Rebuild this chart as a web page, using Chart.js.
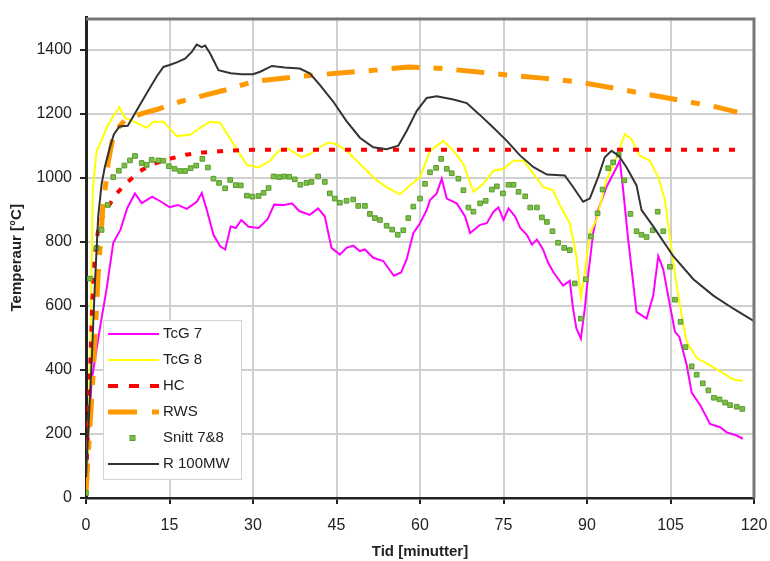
<!DOCTYPE html>
<html>
<head>
<meta charset="utf-8">
<script src="https://cdn.jsdelivr.net/npm/chart.js@4.4.0/dist/chart.umd.min.js"></script>
<style>
  html, body { margin: 0; padding: 0; background: #fff; }
  #wrap { width: 770px; height: 561px; }
</style>
</head>
<body>
<div id="wrap"><canvas id="chart" width="770" height="561"></canvas></div>
<script>
// time in minutes, temperature in °C
const tcg7Time = [0,0.2,1,2.5,3.7,4.9,6.2,7.4,8.8,10,11.9,13.5,15,16.5,18.1,19.9,20.8,21.7,22.9,24.1,25,26,26.9,27.9,29.2,31,32.6,33.8,35.6,37,38.3,40.2,41.7,42.9,44.1,45.6,46.8,48,49.2,50.1,51.6,53.4,55.3,56.6,57.6,58.8,60,61.2,61.8,63,63.9,64.8,66.6,68.1,69,70.8,72,73.2,74.1,75,75.9,77.1,78,79.2,80.1,81,82.1,83,84,85.7,86.9,87.5,88.1,88.9,89.6,90.2,91.1,92,93.5,95,95.9,96.5,97.4,98.9,100.7,101.9,102.8,103.7,104.9,105.8,106.6,107.9,108.8,110.4,112.1,113.9,115.1,116.9,118];
const tcg7Temp = [20,97,365,530,653,797,838,905,951,921,941,925,908,915,903,925,952,899,822,786,776,848,843,868,847,843,870,916,915,920,896,884,904,879,781,760,781,788,771,776,750,740,694,704,745,827,858,899,930,951,997,935,920,879,827,853,858,894,907,868,904,879,843,822,791,807,776,735,704,663,678,591,529,498,591,694,827,899,971,1022,1053,961,807,581,560,632,755,714,601,519,503,416,329,288,231,221,205,195,185];

const tcg8Time = [0,0.4,0.8,1.0,1.2,1.9,2.5,3.7,4.9,6,7,8.5,10.9,12.1,13.9,16.3,18.7,20.5,22.3,24.1,26.5,28.9,31,33.1,34.6,36.2,38.7,40.2,41.4,43.5,45,46.8,49.2,52.2,54,56.4,58.2,60,61.8,64.2,66,67.8,69.6,71.4,73.2,75,76.8,78.6,80.4,82.1,83.9,85.1,86.9,88.1,88.9,89.6,90.5,91.7,93.5,95.3,96.8,98,99.5,101.3,102.8,104,105.2,106.1,107,107.9,109.7,111.4,113.9,116.3,118];
const tcg8Temp = [20,150,500,700,960,1084,1105,1156,1192,1220,1187,1177,1156,1175,1175,1130,1134,1156,1175,1172,1105,1040,1032,1053,1084,1092,1064,1074,1089,1110,1105,1084,1043,992,971,948,976,1002,1084,1115,1084,1043,956,981,1022,1028,1053,1053,1012,971,961,915,858,755,627,704,827,868,992,1064,1136,1120,1069,1053,1002,930,776,663,570,488,437,421,396,370,365];

const hcTime = [0,0.3,0.7,1.1,1.6,2.2,3,3.7,5.2,7.3,9.7,12.1,15,18,21,25,30,117.5];
const hcTemp = [20,200,380,600,760,840,880,900,945,984,1021,1043,1059,1072,1079,1084,1087,1087];

const rwsTime = [0,1.3,2.2,3,4,5,7,10,12.7,17,25,30,38,45,52,58,64,70,76,82,88,94.7,100.7,107,112.7,117];
const rwsTemp = [20,390,700,900,1050,1140,1180,1200,1213,1238,1274,1300,1316,1326,1336,1346,1341,1331,1320,1311,1300,1280,1261,1241,1223,1205];

const snittTime = [0,0.7,1.9,2.8,3.9,4.9,5.9,6.9,7.9,8.8,10,10.9,11.8,13,13.9,14.9,15.9,16.9,17.8,18.8,19.8,20.9,21.9,22.9,23.9,25,25.9,26.9,27.8,28.9,29.9,31,31.9,32.8,33.7,34.7,35.6,36.5,37.5,38.5,39.6,40.5,41.7,42.9,43.8,44.7,45.6,46.8,48,48.9,50.1,51,51.9,52.8,54,55,56,57,57.9,58.8,60,60.9,61.8,62.9,63.8,64.8,65.7,66.9,67.8,68.7,69.6,70.8,71.8,72.9,73.8,74.9,75.9,76.8,77.7,78.9,79.8,81,81.9,82.8,83.8,84.8,85.9,86.9,87.8,88.9,89.8,90.7,91.9,92.8,93.8,94.7,95.7,96.7,97.8,98.9,99.8,100.7,101.8,102.7,103.7,104.9,105.8,106.8,107.7,108.8,109.7,110.8,111.8,112.8,113.8,114.8,115.7,116.9,117.9];
const snittTemp = [15,685,781,837,915,1002,1022,1038,1054,1068,1046,1040,1056,1054,1053,1036,1028,1021,1021,1030,1038,1059,1032,997,984,967,993,977,976,944,941,943,953,968,1004,1002,1004,1003,995,978,984,987,1004,987,951,935,922,928,932,912,912,887,874,868,850,838,822,836,874,910,935,981,1017,1031,1059,1028,1014,997,961,907,894,920,928,963,973,951,978,978,956,942,907,907,876,862,833,797,781,774,670,560,683,817,889,963,1030,1048,1072,992,887,833,822,815,836,894,833,722,619,550,471,411,385,358,336,313,308,298,290,285,278];

const rTime = [0,0.4,1,1.6,2.2,2.8,3.4,4.3,5,6,7.5,8.5,9.7,10.9,12.7,13.9,15,16.3,17.8,19,19.9,20.8,21.4,22.3,23.8,26,28,30,31.3,33.4,35.7,38.4,40.2,42,44.4,46.8,49.2,51.6,54,56.1,57.6,59.4,61.2,63,66,68.4,70.7,73.2,75.6,78,80.4,82.8,86,87.5,89.3,90.5,92,93.2,94.4,95.7,97.1,98.9,99.8,101.9,105.5,109.1,112.7,116.3,120];
const rTemp = [65,210,420,670,880,980,1035,1095,1135,1160,1162,1192,1228,1264,1316,1346,1352,1360,1372,1393,1416,1408,1413,1388,1336,1326,1323,1323,1331,1349,1344,1341,1326,1290,1238,1177,1125,1095,1089,1100,1146,1208,1249,1254,1244,1233,1197,1156,1115,1069,1033,1010,1007,971,925,935,1002,1064,1084,1069,1033,976,899,848,755,683,632,591,552];

const seriesNames = ['TcG 7', 'TcG 8', 'HC', 'RWS', 'Snitt 7&8', 'R 100MW'];
const xTicks = { min: 0, max: 120, step: 15 };
const yTicks = { min: 0, max: 1500, step: 200 };

function pts(times, temps) {
    return times.map((t, i) => ({ x: t, y: temps[i] }));
}

const FONT = '"Liberation Sans", Arial, sans-serif';

// legend drawn inside the plot, like the original
const legendBox = {
    id: 'legendBox',
    afterDraw(chart) {
        const ctx = chart.ctx;
        const bx = 103, by = 320, bw = 138, bh = 159;
        ctx.save();
        ctx.fillStyle = '#ffffff';
        ctx.fillRect(bx, by, bw, bh);
        ctx.strokeStyle = '#d4d4d4';
        ctx.lineWidth = 1;
        ctx.strokeRect(bx + 0.5, by + 0.5, bw, bh);
        chart.data.datasets.forEach((ds, i) => {
            const cy = by + 14 + i * 26;
            if (ds.showLine === false) {
                ctx.fillStyle = ds.backgroundColor;
                ctx.strokeStyle = ds.borderColor;
                ctx.lineWidth = 1;
                ctx.fillRect(130, cy - 2.5, 5, 5);
                ctx.strokeRect(130, cy - 2.5, 5, 5);
            } else {
                ctx.strokeStyle = ds.borderColor;
                ctx.lineWidth = ds.borderWidth;
                ctx.setLineDash(ds.legendDash || []);
                ctx.lineCap = 'butt';
                ctx.beginPath();
                ctx.moveTo(108, cy);
                ctx.lineTo(159, cy);
                ctx.stroke();
                ctx.setLineDash([]);
            }
            ctx.fillStyle = '#222';
            ctx.font = '15px ' + FONT;
            ctx.textBaseline = 'middle';
            ctx.textAlign = 'left';
            ctx.fillText(ds.label, 163, cy);
        });
        ctx.restore();
    }
};

// dark frame on the top and right side of the plot area
const frame = {
    id: 'frame',
    afterDraw(chart) {
        const a = chart.chartArea;
        const ctx = chart.ctx;
        ctx.save();
        ctx.strokeStyle = '#777';
        ctx.lineWidth = 3;
        ctx.beginPath();
        ctx.moveTo(a.left, a.top + 1.5);
        ctx.lineTo(a.right, a.top + 1.5);
        ctx.lineTo(a.right, a.bottom);
        ctx.stroke();
        ctx.restore();
    }
};

const ctx = document.getElementById('chart').getContext('2d');
new Chart(ctx, {
    type: 'line',
    data: {
        datasets: [
            {
                label: seriesNames[0],
                data: pts(tcg7Time, tcg7Temp),
                borderColor: '#ff00ff',
                borderWidth: 2,
                pointRadius: 0,
                order: 6
            },
            {
                label: seriesNames[1],
                data: pts(tcg8Time, tcg8Temp),
                borderColor: '#ffff00',
                borderWidth: 2,
                pointRadius: 0,
                order: 5
            },
            {
                label: seriesNames[2],
                data: pts(hcTime, hcTemp),
                borderColor: '#ff0000',
                borderWidth: 4,
                borderDash: [6, 10],
                legendDash: [10, 11],
                pointRadius: 0,
                order: 4
            },
            {
                label: seriesNames[3],
                data: pts(rwsTime, rwsTemp),
                borderColor: '#ff9900',
                borderWidth: 5,
                borderDash: [28, 14, 9, 14],
                legendDash: [29, 15, 7, 20],
                pointRadius: 0,
                order: 3
            },
            {
                label: seriesNames[4],
                data: pts(snittTime, snittTemp),
                showLine: false,
                pointStyle: 'rect',
                pointRadius: 3.3,
                backgroundColor: '#7cbf45',
                borderColor: '#5a9a30',
                borderWidth: 1,
                order: 2
            },
            {
                label: seriesNames[5],
                data: pts(rTime, rTemp),
                borderColor: '#333333',
                borderWidth: 2,
                pointRadius: 0,
                order: 1
            }
        ]
    },
    options: {
        responsive: false,
        animation: false,
        layout: { padding: { left: 0, top: 12, right: 16, bottom: 0 } },
        elements: { line: { tension: 0 } },
        plugins: {
            legend: { display: false },
            tooltip: { enabled: false }
        },
        scales: {
            x: {
                type: 'linear',
                min: xTicks.min,
                max: xTicks.max,
                afterFit(scale) {
                    scale.height = 63;
                    scale.paddingLeft = 0;
                    scale.paddingRight = 0;
                },
                ticks: {
                    stepSize: xTicks.step,
                    color: '#222',
                    font: { family: FONT, size: 16 },
                    padding: 12,
                    maxRotation: 0
                },
                grid: {
                    color: '#d0d0d0',
                    lineWidth: 2,
                    tickLength: 6,
                    tickColor: '#222',
                    tickWidth: 2
                },
                border: { color: '#222', width: 2.5 },
                title: {
                    display: true,
                    text: 'Tid [minutter]',
                    color: '#222',
                    font: { family: FONT, size: 15, weight: 'bold' },
                    padding: { top: 0, bottom: 0 }
                }
            },
            y: {
                min: yTicks.min,
                max: yTicks.max,
                afterFit(scale) { scale.width = 86; },
                ticks: {
                    stepSize: yTicks.step,
                    includeBounds: false,
                    color: '#222',
                    font: { family: FONT, size: 16 },
                    padding: 8,
                    callback: (v) => String(v)
                },
                grid: {
                    color: '#d0d0d0',
                    lineWidth: 2,
                    tickLength: 6,
                    tickColor: '#222',
                    tickWidth: 2
                },
                border: { color: '#222', width: 3 },
                title: {
                    display: true,
                    text: 'Temperaur [°C]',
                    color: '#222',
                    font: { family: FONT, size: 15, weight: 'bold' },
                    padding: { top: 8, bottom: 0 }
                }
            }
        }
    },
    plugins: [legendBox, frame]
});
</script>
</body>
</html>
